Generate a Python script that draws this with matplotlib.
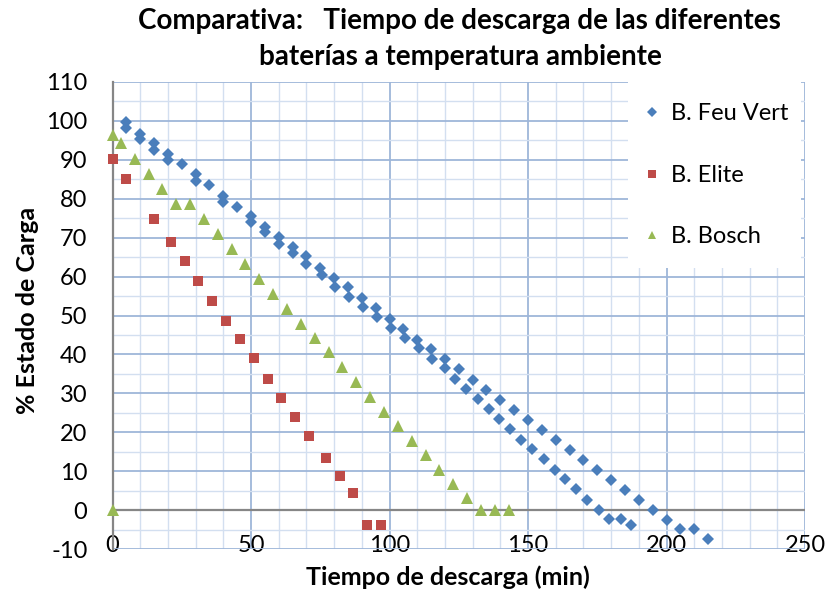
import matplotlib
matplotlib.use("Agg")
import matplotlib.pyplot as plt
from matplotlib.patches import Rectangle
from matplotlib.ticker import MultipleLocator

# ---------------- data ----------------
feu_a_x = [5, 10, 15, 20, 25, 30, 35, 40, 45, 50, 55, 60, 65, 70, 75, 80, 85, 90, 95, 100,
           105, 110, 115, 120, 125, 130, 135, 140, 145, 150, 155, 160, 165, 170, 175, 180,
           185, 190, 195, 200, 205, 210, 215]
feu_a_y = [99.6, 96.7, 94.3, 91.5, 88.9, 86.3, 83.5, 80.8, 78.0, 75.6, 72.8, 70.1, 67.5, 65.2,
           62.1, 59.6, 57.3, 54.4, 51.9, 49.1, 46.6, 43.8, 41.3, 38.7, 36.3, 33.5, 30.8, 28.2,
           25.6, 23.1, 20.7, 17.9, 15.4, 12.8, 10.3, 7.7, 5.1, 2.6, 0.0, -2.6, -4.9, -4.9, -7.5]
feu_b_x = [5, 10, 15, 20, 30, 40, 50, 55, 60, 65, 70, 75.5, 80.5, 85.5, 90.5, 95.5, 100.5,
           105.5, 110.5, 115.5, 120, 123.6, 127.6, 131.8, 135.8, 139.6, 143.5, 147.5, 151.6,
           155.8, 159.7, 163.4, 167.3, 171.2, 175.6, 179.3, 183.5, 187.3]
feu_b_y = [98.1, 95.3, 92.6, 90.0, 84.6, 79.2, 74.1, 71.4, 68.5, 66.0, 63.3, 60.3, 57.4, 54.7,
           52.1, 49.6, 46.7, 44.2, 41.6, 38.9, 36.4, 33.8, 31.2, 28.5, 25.9, 23.3, 20.8, 18.1,
           15.6, 13.0, 10.4, 7.9, 5.3, 2.7, 0.0, -2.4, -2.4, -3.9]

elite_x = [0, 5, 15, 21, 26, 31, 36, 41, 46, 51, 56, 61, 66, 71, 77, 82, 87, 92, 97]
elite_y = [90.2, 85.2, 74.9, 69.0, 63.9, 58.8, 53.8, 48.7, 44.0, 39.0, 33.8, 28.8, 23.9,
           19.0, 13.4, 8.8, 4.4, -3.8, -3.8]

bosch_x = [0, 0, 3, 8, 13, 18, 23, 28, 33, 38, 43, 48, 53, 58, 63, 68, 73, 78, 83, 88, 93,
           98, 103, 108, 113, 118, 123, 128, 133, 138, 143]
bosch_y = [0, 96.4, 94.2, 90.2, 86.3, 82.5, 78.6, 78.6, 74.8, 70.9, 67.1, 63.3, 59.4, 55.6,
           51.7, 47.9, 44.2, 40.5, 36.7, 32.9, 29.0, 25.3, 21.5, 17.8, 14.1, 10.3, 6.6, 3.0,
           0, 0, 0]

series_names = ["B. Feu Vert", "B. Elite", "B. Bosch"]
x_ticks = [0, 50, 100, 150, 200, 250]
y_ticks = [-10, 0, 10, 20, 30, 40, 50, 60, 70, 80, 90, 100, 110]

title_line1 = "Comparativa:   Tiempo de descarga de las diferentes"
title_line2 = "baterías a temperatura ambiente"
x_label = "Tiempo de descarga (min)"
y_label = "% Estado de Carga"

# ---------------- style ----------------
plt.rcParams['font.family'] = ['Lato', 'DejaVu Sans']
plt.rcParams['axes.unicode_minus'] = False
C_BLUE = '#4A7EBB'
C_RED = '#BE4B48'
C_GREEN = '#98B954'
C_AXIS = '#868686'

fig = plt.figure(figsize=(8.27, 5.91), dpi=100)
ax = fig.add_axes([112.5 / 827, 1 - 549 / 591, (805 - 112.5) / 827, (549 - 82) / 591])

ax.set_xlim(0, 250)
ax.set_ylim(-10, 110)
ax.set_xticks(x_ticks)
ax.set_yticks(y_ticks)
ax.xaxis.set_minor_locator(MultipleLocator(10))
ax.yaxis.set_minor_locator(MultipleLocator(5))

ax.grid(which='major', color='#9EB6D9', linewidth=1.3, zorder=0)
ax.grid(which='minor', color='#D3DFF0', linewidth=1.0, zorder=0)
ax.set_axisbelow(True)

for s in ['top', 'right', 'bottom']:
    ax.spines[s].set_visible(False)
ax.spines['left'].set_color(C_AXIS)
ax.spines['left'].set_linewidth(1.6)
ax.axhline(0, color=C_AXIS, linewidth=1.6, zorder=1)

ax.tick_params(axis='both', which='both', length=0)
ax.tick_params(axis='y', labelsize=17, pad=18)
ax.tick_params(axis='x', labelsize=17, pad=-10)

# markers
h1, = ax.plot(feu_a_x + feu_b_x, feu_a_y + feu_b_y, linestyle='none', marker='D',
              markersize=6.4, color=C_BLUE, markeredgewidth=0, zorder=3, label=series_names[0])
h2, = ax.plot(elite_x, elite_y, linestyle='none', marker='s', markersize=7.0,
              color=C_RED, markeredgewidth=0, zorder=3, label=series_names[1])
h3, = ax.plot(bosch_x, bosch_y, linestyle='none', marker='^', markersize=8.6,
              color=C_GREEN, markeredgewidth=0, zorder=3, label=series_names[2])
for h in (h1, h2, h3):
    h.set_clip_on(False)

# legend area
ax.add_patch(Rectangle((0.744, 0.602), 0.25, 0.398, transform=ax.transAxes,
                       facecolor='white', edgecolor='none', zorder=4))
leg = ax.legend(handles=[h1, h2, h3], loc='upper left', bbox_to_anchor=(0.745, 0.99),
                frameon=False, fontsize=17, labelspacing=1.72, handlelength=0.6,
                handletextpad=0.5, borderaxespad=0.3)
leg.set_zorder(5)
for lh in leg.legend_handles:
    lh.set_markersize(lh.get_markersize() * 0.75)

fig.text(459 / 827, 1 - 21 / 591, title_line1, ha='center', va='center',
         fontsize=20, fontweight='bold')
fig.text(460 / 827, 1 - 57 / 591, title_line2, ha='center', va='center',
         fontsize=20, fontweight='bold')
fig.text(448 / 827, 1 - 577 / 591, x_label, ha='center', va='center',
         fontsize=18, fontweight='bold')
fig.text(28 / 827, 1 - 310 / 591, y_label, ha='center', va='center', rotation=90,
         fontsize=18, fontweight='bold')

fig.savefig("out.png", dpi=100)
